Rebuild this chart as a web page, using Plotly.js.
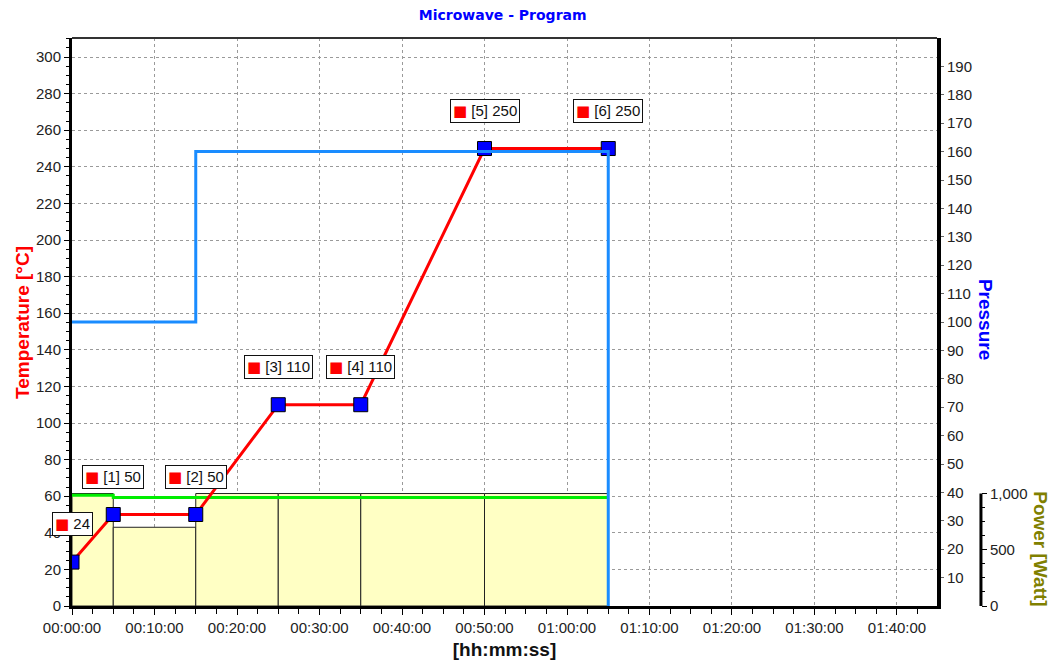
<!DOCTYPE html>
<html>
<head>
<meta charset="utf-8">
<script src="https://cdn.plot.ly/plotly-3.0.1.min.js"></script>
<style>
html,body{margin:0;padding:0;background:#fff;}
#chart{width:1056px;height:666px;}
</style>
</head>
<body>
<div id="chart"></div>
<script>
// ---- data (time in minutes) ----
const tempTime = [0, 5, 15, 25, 35, 50, 65];
const tempValue = [24, 50, 50, 110, 110, 250, 250];
const pressureTime = [0, 15, 65];
const pressureValue = [100, 160, 0];
const powerLineTime = [0, 5, 65];
const powerLineValue = [985, 965, 965];
const stepPower = [1000, 700, 1000, 1000, 1000, 1000];
const xTickVals = [0, 10, 20, 30, 40, 50, 60, 70, 80, 90, 100];
const xTickLabels = ['00:00:00', '00:10:00', '00:20:00', '00:30:00', '00:40:00', '00:50:00',
                     '01:00:00', '01:10:00', '01:20:00', '01:30:00', '01:40:00'];
const pressureTicks = [10, 20, 30, 40, 50, 60, 70, 80, 90, 100, 110, 120, 130, 140, 150, 160, 170, 180, 190];
const powerTickVals = [0, 500, 1000];
const powerTickLabels = ['0', '500', '1,000'];
const powerMinorTicks = [125, 250, 375, 625, 750, 875];

const FONT = 'Liberation Sans, Arial, sans-serif';
const XDOM = 0.8936;
const PPOS = 0.939;

const stepStart = tempTime.slice(0, -1);
const stepWidth = stepStart.map((t, i) => tempTime[i + 1] - t);

const traces = [
  { type: 'bar', x: stepStart, y: stepPower, width: stepWidth, offset: 0,
    xaxis: 'x', yaxis: 'y',
    marker: { color: '#ffffc4', line: { color: '#222', width: 1 } }, hoverinfo: 'skip' },
  { type: 'scatter', mode: 'lines', x: powerLineTime, y: powerLineValue,
    xaxis: 'x', yaxis: 'y', line: { color: '#00ee00', width: 3, shape: 'hv' } },
  { type: 'scatter', mode: 'lines+markers', x: tempTime, y: tempValue,
    xaxis: 'x', yaxis: 'y2', line: { color: '#ff0000', width: 3 },
    marker: { symbol: 'square', size: 14, color: '#0000ff', line: { color: '#000', width: 1 } } },
  { type: 'scatter', mode: 'lines', x: pressureTime, y: pressureValue,
    xaxis: 'x', yaxis: 'y3', line: { color: '#1a8cff', width: 3, shape: 'hv' } }
];

const annotations = tempTime.map((t, i) => ({
  x: t, y: tempValue[i], xref: 'x', yref: 'y2', yshift: 38, showarrow: false,
  xanchor: 'center', yanchor: 'middle',
  text: "<span style='color:#ff0000;font-family:DejaVu Sans'>■</span> " +
        (i === 0 ? String(tempValue[i]) : '[' + i + '] ' + tempValue[i]),
  font: { family: FONT, size: 15, color: '#111' },
  bgcolor: '#ffffff', bordercolor: '#111', borderwidth: 1, borderpad: 2
}));
annotations.push(
  { x: -0.0517, y: 0.5, xref: 'paper', yref: 'paper', showarrow: false, textangle: -90,
    xanchor: 'center', yanchor: 'middle',
    text: '<b>Temperature [°C]</b>', font: { family: FONT, size: 19, color: '#ff0000' } },
  { x: 0.943, y: 0.504, xref: 'paper', yref: 'paper', showarrow: false, textangle: 90,
    xanchor: 'center', yanchor: 'middle',
    text: '<b>Pressure</b>', font: { family: FONT, size: 19, color: '#0000ff' } },
  { x: 1.001, y: 0.100, xref: 'paper', yref: 'paper', showarrow: false, textangle: 90,
    xanchor: 'center', yanchor: 'middle',
    text: '<b>Power [Watt]</b>', font: { family: FONT, size: 19, color: '#808000' } }
);

const layout = {
  width: 1056, height: 666,
  margin: { l: 72, r: 16, t: 38, b: 60 },
  paper_bgcolor: '#fff', plot_bgcolor: '#fff',
  showlegend: false,
  font: { family: FONT, size: 15, color: '#222' },
  title: { text: '<b>Microwave - Program</b>', x: 0.476, xref: 'container', xanchor: 'center',
           y: 0.977, yref: 'container', yanchor: 'middle',
           font: { family: 'DejaVu Sans, sans-serif', size: 14, color: '#0000ff' } },
  xaxis: {
    domain: [0, XDOM], range: [0, 104.85], anchor: 'y',
    tickmode: 'array', tickvals: xTickVals, ticktext: xTickLabels,
    ticks: 'outside', ticklen: 6, tickcolor: '#000', tickwidth: 1,
    minor: { dtick: 2.5, tick0: 0, ticks: 'outside', ticklen: 5, tickcolor: '#000', showgrid: false },
    showline: true, linecolor: '#000', linewidth: 3,
    showgrid: true, gridcolor: '#9a9a9a', griddash: 'dot', gridwidth: 1,
    zeroline: false, tickfont: { family: FONT, size: 15, color: '#222' },
    title: { text: '<b>[hh:mm:ss]</b>', standoff: 8, font: { family: FONT, size: 19, color: '#111' } }
  },
  yaxis: {
    range: [0, 5050], anchor: 'free', position: PPOS, side: 'right',
    tickmode: 'array', tickvals: powerTickVals, ticktext: powerTickLabels,
    ticks: 'outside', ticklen: 5, tickcolor: '#000',
    minor: { tickvals: powerMinorTicks, ticks: 'outside', ticklen: 3, tickcolor: '#000', showgrid: false },
    showline: false, showgrid: false, zeroline: false,
    tickfont: { family: FONT, size: 15, color: '#222' }
  },
  yaxis2: {
    overlaying: 'y', side: 'left', anchor: 'x', range: [0, 310.4],
    dtick: 20, tick0: 0, ticks: 'outside', ticklen: 5, tickcolor: '#000',
    minor: { dtick: 5, ticks: 'outside', ticklen: 3, tickcolor: '#000', showgrid: false },
    showline: true, linecolor: '#000', linewidth: 3,
    showgrid: true, gridcolor: '#9a9a9a', griddash: 'dot', gridwidth: 1,
    zeroline: false, tickfont: { family: FONT, size: 15, color: '#222' }
  },
  yaxis3: {
    overlaying: 'y', side: 'right', anchor: 'x', range: [0, 200],
    tickmode: 'array', tickvals: pressureTicks,
    ticks: 'outside', ticklen: 3, tickcolor: '#666',
    showline: true, linecolor: '#000', linewidth: 4,
    showgrid: false, zeroline: false, tickfont: { family: FONT, size: 15, color: '#222' }
  },
  shapes: [
    { type: 'line', xref: 'paper', yref: 'paper', x0: 0, x1: XDOM, y0: 1, y1: 1,
      line: { color: '#333', width: 2 } },
    { type: 'line', xref: 'paper', yref: 'y', x0: PPOS, x1: PPOS, y0: 0, y1: 1000,
      line: { color: '#000', width: 3 } }
  ],
  annotations: annotations
};

Plotly.newPlot('chart', traces, layout, { displayModeBar: false, staticPlot: true });
</script>
</body>
</html>
